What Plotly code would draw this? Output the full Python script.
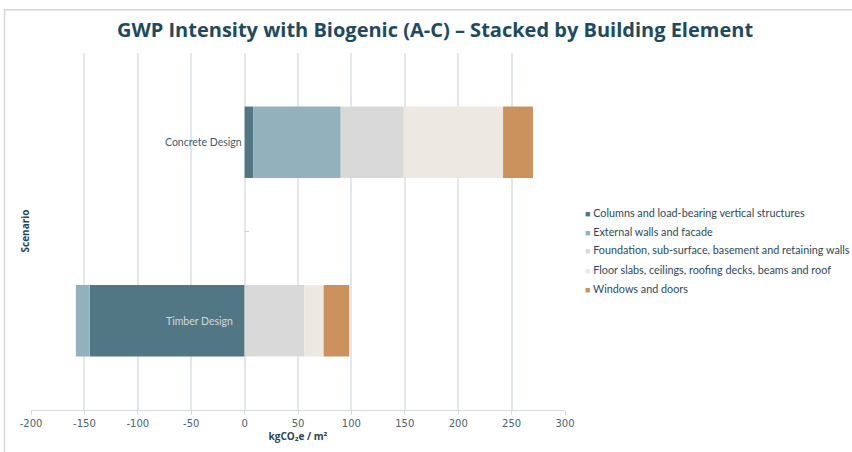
import plotly.graph_objects as go

# Scenarios (bottom to top on the category axis)
scenarios = ["Timber Design", "Concrete Design"]

# Building elements and their GWP intensity (kgCO2e / m2), per scenario
elements = [
    "Columns and load-bearing vertical structures",
    "External walls and facade",
    "Foundation, sub-surface, basement and retaining walls",
    "Floor slabs, ceilings, roofing decks, beams and roof",
    "Windows and doors",
]
columns_vals = [-145, 8]
external_walls_vals = [-13, 82]
foundation_vals = [56, 59]
floor_slabs_vals = [18, 93]
windows_vals = [24, 28]

series_values = [columns_vals, external_walls_vals, foundation_vals,
                 floor_slabs_vals, windows_vals]
colors = ["#517785", "#93b1bc", "#d9d9d9", "#eee8e2", "#cc925d"]

x_ticks = [-200, -150, -100, -50, 0, 50, 100, 150, 200, 250, 300]

W, H = 852, 452
ML, MR, MT, MB = 31, 287, 53, 40
PW, PH = W - ML - MR, H - MT - MB


def px_to_paper_x(px):
    return (px - ML) / PW


def px_to_paper_y(py):
    return (H - MB - py) / PH


fig = go.Figure()
for name, vals, col in zip(elements, series_values, colors):
    fig.add_trace(go.Bar(
        y=scenarios, x=vals, name=name, orientation="h",
        marker=dict(color=col, line=dict(width=0)),
        width=0.4, showlegend=False,
        hovertemplate="%{y}<br>" + name + ": %{x}<extra></extra>",
    ))

annotations = []

# Category labels sitting at the zero line
label_colors = {"Timber Design": "#cdd9de", "Concrete Design": "#3e5b6b"}
label_shift = {"Timber Design": -10, "Concrete Design": -1}
for s in scenarios:
    annotations.append(dict(
        x=0, y=s, xref="x", yref="y", text=s, showarrow=False,
        xanchor="right", yanchor="middle", xshift=label_shift[s],
        font=dict(family="Lato", size=10.5, color=label_colors[s]),
    ))

# Vertical axis title
annotations.append(dict(
    x=px_to_paper_x(24), y=0.5, xref="paper", yref="paper",
    text="<b>Scenario</b>", showarrow=False, textangle=-90,
    xanchor="center", yanchor="middle",
    font=dict(family="Open Sans", size=10, color="#27465a"),
))

# Legend entries
legend_y = [213, 232, 251, 271, 290]
for name, col, ly in zip(elements, colors, legend_y):
    annotations.append(dict(
        x=px_to_paper_x(583), y=px_to_paper_y(ly), xref="paper", yref="paper",
        text=f'<span style="color:{col};font-size:9px">■</span> {name}',
        showarrow=False, xanchor="left", yanchor="middle",
        font=dict(family="Lato", size=10.8, color="#2e4a5a"),
    ))

shapes = [
    # chart frame (left and top edges)
    dict(type="path", xref="paper", yref="paper",
         path=(f"M {px_to_paper_x(4.5)} {px_to_paper_y(460)} "
               f"L {px_to_paper_x(4.5)} {px_to_paper_y(9.5)} "
               f"L {px_to_paper_x(860)} {px_to_paper_y(9.5)}"),
         line=dict(color="#d6d6d6", width=1.5), layer="below"),
    # category tick on the value axis at zero
    dict(type="line", xref="x", yref="y", x0=0, x1=4, y0=0.5, y1=0.5,
         line=dict(color="#c8cdd2", width=1)),
]

fig.update_layout(
    width=W, height=H,
    margin=dict(l=ML, r=MR, t=MT, b=MB, pad=0),
    paper_bgcolor="white", plot_bgcolor="white",
    barmode="relative", bargap=0.6,
    title=dict(
        text="<b>GWP Intensity with Biogenic (A-C) – Stacked by Building Element</b>",
        x=435 / W, xanchor="center",
        y=1 - 30 / H, yanchor="middle",
        font=dict(family="Open Sans", size=20, color="#1e4a5f"),
    ),
    xaxis=dict(
        range=[-200, 300], tickvals=x_ticks, ticktext=[str(v) for v in x_ticks],
        showgrid=True, gridcolor="#e2e7eb", gridwidth=1.5, zeroline=False,
        showline=True, linecolor="#d3d9de", linewidth=1,
        ticks="outside", ticklen=4, tickcolor="#d3d9de",
        tickfont=dict(family="DejaVu Sans", size=10, color="#4a6272"),
        title=dict(text="<b>kgCO₂e / m²</b>", standoff=4,
                   font=dict(family="Open Sans", size=10, color="#27465a")),
        fixedrange=True,
    ),
    yaxis=dict(
        type="category", categoryorder="array", categoryarray=scenarios,
        range=[-0.5, 1.5], showticklabels=False, showgrid=False,
        zeroline=False, showline=False, ticks="", fixedrange=True,
    ),
    annotations=annotations,
    shapes=shapes,
    showlegend=False,
)

fig.write_html("out.html")
